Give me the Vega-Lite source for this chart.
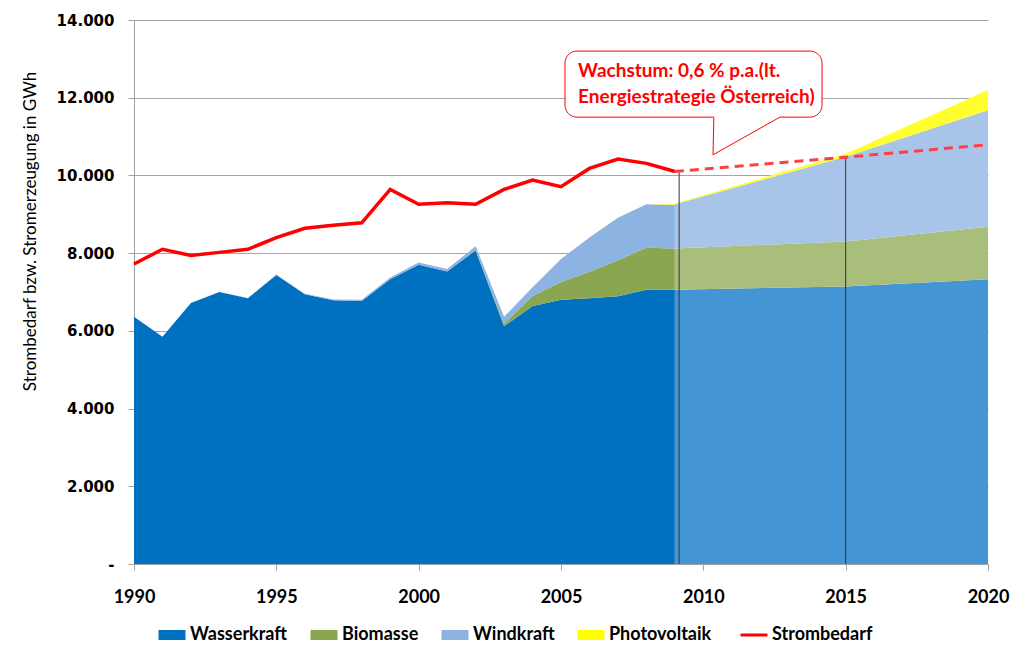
{
  "$schema": "https://vega.github.io/schema/vega-lite/v6.json",
  "autosize": "none",
  "width": 854,
  "height": 544,
  "padding": {"left": 134, "top": 20, "right": 36, "bottom": 99},
  "background": "white",
  "config": {
    "view": {"stroke": null},
    "font": "Lato",
    "axis": {"labelColor": "black", "titleColor": "black", "domainColor": "#A0A0A0", "tickColor": "#A0A0A0", "gridColor": "#A6A6A6"}
  },
  "datasets": {
    "areas": [
      {"year": 1990, "series": "Wasserkraft", "ord": 1, "phase": "ist", "value": 6360},
      {"year": 1991, "series": "Wasserkraft", "ord": 1, "phase": "ist", "value": 5850},
      {"year": 1992, "series": "Wasserkraft", "ord": 1, "phase": "ist", "value": 6720},
      {"year": 1993, "series": "Wasserkraft", "ord": 1, "phase": "ist", "value": 7000},
      {"year": 1994, "series": "Wasserkraft", "ord": 1, "phase": "ist", "value": 6840},
      {"year": 1995, "series": "Wasserkraft", "ord": 1, "phase": "ist", "value": 7440},
      {"year": 1996, "series": "Wasserkraft", "ord": 1, "phase": "ist", "value": 6940},
      {"year": 1997, "series": "Wasserkraft", "ord": 1, "phase": "ist", "value": 6790},
      {"year": 1998, "series": "Wasserkraft", "ord": 1, "phase": "ist", "value": 6770},
      {"year": 1999, "series": "Wasserkraft", "ord": 1, "phase": "ist", "value": 7330},
      {"year": 2000, "series": "Wasserkraft", "ord": 1, "phase": "ist", "value": 7700},
      {"year": 2001, "series": "Wasserkraft", "ord": 1, "phase": "ist", "value": 7530},
      {"year": 2002, "series": "Wasserkraft", "ord": 1, "phase": "ist", "value": 8070},
      {"year": 2003, "series": "Wasserkraft", "ord": 1, "phase": "ist", "value": 6120},
      {"year": 2004, "series": "Wasserkraft", "ord": 1, "phase": "ist", "value": 6640},
      {"year": 2005, "series": "Wasserkraft", "ord": 1, "phase": "ist", "value": 6800},
      {"year": 2006, "series": "Wasserkraft", "ord": 1, "phase": "ist", "value": 6840},
      {"year": 2007, "series": "Wasserkraft", "ord": 1, "phase": "ist", "value": 6890},
      {"year": 2008, "series": "Wasserkraft", "ord": 1, "phase": "ist", "value": 7060},
      {"year": 2009, "series": "Wasserkraft", "ord": 1, "phase": "ist", "value": 7060},
      {"year": 1990, "series": "Biomasse", "ord": 2, "phase": "ist", "value": 0},
      {"year": 1991, "series": "Biomasse", "ord": 2, "phase": "ist", "value": 0},
      {"year": 1992, "series": "Biomasse", "ord": 2, "phase": "ist", "value": 0},
      {"year": 1993, "series": "Biomasse", "ord": 2, "phase": "ist", "value": 0},
      {"year": 1994, "series": "Biomasse", "ord": 2, "phase": "ist", "value": 0},
      {"year": 1995, "series": "Biomasse", "ord": 2, "phase": "ist", "value": 0},
      {"year": 1996, "series": "Biomasse", "ord": 2, "phase": "ist", "value": 0},
      {"year": 1997, "series": "Biomasse", "ord": 2, "phase": "ist", "value": 0},
      {"year": 1998, "series": "Biomasse", "ord": 2, "phase": "ist", "value": 0},
      {"year": 1999, "series": "Biomasse", "ord": 2, "phase": "ist", "value": 0},
      {"year": 2000, "series": "Biomasse", "ord": 2, "phase": "ist", "value": 0},
      {"year": 2001, "series": "Biomasse", "ord": 2, "phase": "ist", "value": 0},
      {"year": 2002, "series": "Biomasse", "ord": 2, "phase": "ist", "value": 10},
      {"year": 2003, "series": "Biomasse", "ord": 2, "phase": "ist", "value": 60},
      {"year": 2004, "series": "Biomasse", "ord": 2, "phase": "ist", "value": 260},
      {"year": 2005, "series": "Biomasse", "ord": 2, "phase": "ist", "value": 460},
      {"year": 2006, "series": "Biomasse", "ord": 2, "phase": "ist", "value": 680},
      {"year": 2007, "series": "Biomasse", "ord": 2, "phase": "ist", "value": 930},
      {"year": 2008, "series": "Biomasse", "ord": 2, "phase": "ist", "value": 1080},
      {"year": 2009, "series": "Biomasse", "ord": 2, "phase": "ist", "value": 1060},
      {"year": 1990, "series": "Windkraft", "ord": 3, "phase": "ist", "value": 0},
      {"year": 1991, "series": "Windkraft", "ord": 3, "phase": "ist", "value": 0},
      {"year": 1992, "series": "Windkraft", "ord": 3, "phase": "ist", "value": 0},
      {"year": 1993, "series": "Windkraft", "ord": 3, "phase": "ist", "value": 0},
      {"year": 1994, "series": "Windkraft", "ord": 3, "phase": "ist", "value": 5},
      {"year": 1995, "series": "Windkraft", "ord": 3, "phase": "ist", "value": 10},
      {"year": 1996, "series": "Windkraft", "ord": 3, "phase": "ist", "value": 15},
      {"year": 1997, "series": "Windkraft", "ord": 3, "phase": "ist", "value": 20},
      {"year": 1998, "series": "Windkraft", "ord": 3, "phase": "ist", "value": 30},
      {"year": 1999, "series": "Windkraft", "ord": 3, "phase": "ist", "value": 40},
      {"year": 2000, "series": "Windkraft", "ord": 3, "phase": "ist", "value": 60},
      {"year": 2001, "series": "Windkraft", "ord": 3, "phase": "ist", "value": 60},
      {"year": 2002, "series": "Windkraft", "ord": 3, "phase": "ist", "value": 100},
      {"year": 2003, "series": "Windkraft", "ord": 3, "phase": "ist", "value": 180},
      {"year": 2004, "series": "Windkraft", "ord": 3, "phase": "ist", "value": 220},
      {"year": 2005, "series": "Windkraft", "ord": 3, "phase": "ist", "value": 590},
      {"year": 2006, "series": "Windkraft", "ord": 3, "phase": "ist", "value": 880},
      {"year": 2007, "series": "Windkraft", "ord": 3, "phase": "ist", "value": 1090},
      {"year": 2008, "series": "Windkraft", "ord": 3, "phase": "ist", "value": 1120},
      {"year": 2009, "series": "Windkraft", "ord": 3, "phase": "ist", "value": 1120},
      {"year": 2008, "series": "Photovoltaik", "ord": 4, "phase": "ist", "value": 0},
      {"year": 2009, "series": "Photovoltaik", "ord": 4, "phase": "ist", "value": 20},
      {"year": 2009, "series": "Wasserkraft Prognose", "ord": 1, "phase": "prog", "value": 7060},
      {"year": 2015, "series": "Wasserkraft Prognose", "ord": 1, "phase": "prog", "value": 7140},
      {"year": 2020, "series": "Wasserkraft Prognose", "ord": 1, "phase": "prog", "value": 7330},
      {"year": 2009, "series": "Biomasse Prognose", "ord": 2, "phase": "prog", "value": 1060},
      {"year": 2015, "series": "Biomasse Prognose", "ord": 2, "phase": "prog", "value": 1160},
      {"year": 2020, "series": "Biomasse Prognose", "ord": 2, "phase": "prog", "value": 1350},
      {"year": 2009, "series": "Windkraft Prognose", "ord": 3, "phase": "prog", "value": 1140},
      {"year": 2015, "series": "Windkraft Prognose", "ord": 3, "phase": "prog", "value": 2180},
      {"year": 2020, "series": "Windkraft Prognose", "ord": 3, "phase": "prog", "value": 3000},
      {"year": 2009, "series": "Photovoltaik Prognose", "ord": 4, "phase": "prog", "value": 20},
      {"year": 2015, "series": "Photovoltaik Prognose", "ord": 4, "phase": "prog", "value": 80},
      {"year": 2020, "series": "Photovoltaik Prognose", "ord": 4, "phase": "prog", "value": 520}
    ],
    "bedarf": [
      {"year": 1990, "series": "Strombedarf", "phase": "ist", "value": 7720},
      {"year": 1991, "series": "Strombedarf", "phase": "ist", "value": 8100},
      {"year": 1992, "series": "Strombedarf", "phase": "ist", "value": 7940},
      {"year": 1993, "series": "Strombedarf", "phase": "ist", "value": 8020},
      {"year": 1994, "series": "Strombedarf", "phase": "ist", "value": 8100},
      {"year": 1995, "series": "Strombedarf", "phase": "ist", "value": 8400},
      {"year": 1996, "series": "Strombedarf", "phase": "ist", "value": 8640},
      {"year": 1997, "series": "Strombedarf", "phase": "ist", "value": 8720},
      {"year": 1998, "series": "Strombedarf", "phase": "ist", "value": 8780},
      {"year": 1999, "series": "Strombedarf", "phase": "ist", "value": 9640},
      {"year": 2000, "series": "Strombedarf", "phase": "ist", "value": 9260},
      {"year": 2001, "series": "Strombedarf", "phase": "ist", "value": 9300},
      {"year": 2002, "series": "Strombedarf", "phase": "ist", "value": 9260},
      {"year": 2003, "series": "Strombedarf", "phase": "ist", "value": 9640},
      {"year": 2004, "series": "Strombedarf", "phase": "ist", "value": 9880},
      {"year": 2005, "series": "Strombedarf", "phase": "ist", "value": 9710},
      {"year": 2006, "series": "Strombedarf", "phase": "ist", "value": 10180},
      {"year": 2007, "series": "Strombedarf", "phase": "ist", "value": 10420},
      {"year": 2008, "series": "Strombedarf", "phase": "ist", "value": 10310},
      {"year": 2009, "series": "Strombedarf", "phase": "ist", "value": 10100},
      {"year": 2009, "series": "Strombedarf", "phase": "prog", "value": 10100},
      {"year": 2015, "series": "Strombedarf", "phase": "prog", "value": 10470},
      {"year": 2020, "series": "Strombedarf", "phase": "prog", "value": 10790}
    ],
    "marker": [
      {"year": 2009.15, "top": 10100, "base": 0},
      {"year": 2015, "top": 10470, "base": 0}
    ],
    "callout": [
      {"x1": 2005.14, "x2": 2014.17, "y1": 11500, "y2": 13200}
    ],
    "pointer": [
      {"k": 1, "px": 2010.37, "py": 11500},
      {"k": 2, "px": 2010.34, "py": 10530},
      {"k": 3, "px": 2012.69, "py": 11500}
    ],
    "calloutText": [
      {"tx": 2005.6, "ty": 12530, "label": "Wachstum: 0,6 % p.a.(lt."},
      {"tx": 2005.6, "ty": 11860, "label": "Energiestrategie Österreich)"}
    ]
  },
  "layer": [
    {
      "data": {"name": "areas"},
      "transform": [{"filter": "datum.phase === 'ist'"}],
      "mark": {"type": "area", "interpolate": "linear"},
      "encoding": {
        "x": {"field": "year", "type": "quantitative", "scale": {"domain": [1990, 2020], "nice": false, "zero": false},
          "axis": {"values": [1990, 1995, 2000, 2005, 2010, 2015, 2020], "format": "d", "title": null, "grid": false,
            "labelFont": "Lato", "labelFontWeight": "bold", "labelFontSize": 18, "tickSize": 6, "labelPadding": 18, "labelFlush": false}},
        "y": {"field": "value", "type": "quantitative", "stack": "zero", "scale": {"domain": [0, 14000], "nice": false},
          "axis": {"values": [0, 2000, 4000, 6000, 8000, 10000, 12000, 14000], "grid": true, "tickSize": 6,
            "labelExpr": "datum.value === 0 ? '-' : replace(format(datum.value, ',.0f'), ',', '.')",
            "labelFont": "DejaVu Sans", "labelFontWeight": "bold", "labelFontSize": 15, "labelPadding": 14,
            "title": "Strombedarf bzw. Stromerzeugung in GWh", "titleFont": "Lato", "titleFontWeight": "normal", "titleFontSize": 17, "titlePadding": 17, "titleY": 211}},
        "color": {"field": "series", "type": "nominal",
          "scale": {"domain": ["Wasserkraft", "Biomasse", "Windkraft", "Photovoltaik", "Strombedarf", "Wasserkraft Prognose", "Biomasse Prognose", "Windkraft Prognose", "Photovoltaik Prognose"],
            "range": ["#0070C0", "#8AA650", "#8DB3E2", "#FFFF00", "#FF0000", "#4395D3", "#A9BE7B", "#A8C5E9", "#FFFF30"]},
          "legend": {"values": ["Wasserkraft", "Biomasse", "Windkraft", "Photovoltaik", "Strombedarf"], "title": null,
            "orient": "none", "direction": "horizontal", "legendX": 29, "legendY": 606,
            "labelFont": "Lato", "labelFontWeight": "bold", "labelFontSize": 18, "labelColor": "black", "labelOffset": 9,
            "columnPadding": 22, "symbolSize": 729, "symbolType": "M-1,-0.37H1V0.37H-1Z", "symbolStrokeWidth": 0, "symbolOpacity": 1,
            "encode": {"symbols": {"update": {
              "shape": {"signal": "datum.value === 'Strombedarf' ? 'M-1,0H1' : 'M-1,-0.37H1V0.37H-1Z'"},
              "stroke": {"signal": "datum.value === 'Strombedarf' ? '#FF0000' : 'transparent'"},
              "strokeWidth": {"signal": "datum.value === 'Strombedarf' ? 3 : 0"}
            }}}}},
        "order": {"field": "ord", "type": "quantitative"}
      }
    },
    {
      "data": {"name": "areas"},
      "transform": [{"filter": "datum.phase === 'prog'"}],
      "mark": {"type": "area", "interpolate": "linear"},
      "encoding": {
        "x": {"field": "year", "type": "quantitative"},
        "y": {"field": "value", "type": "quantitative", "stack": "zero"},
        "color": {"field": "series", "type": "nominal"},
        "order": {"field": "ord", "type": "quantitative"}
      }
    },
    {
      "data": {"name": "marker"},
      "mark": {"type": "rule", "color": "#333333", "strokeWidth": 1},
      "encoding": {
        "x": {"field": "year", "type": "quantitative"},
        "y": {"field": "base", "type": "quantitative"},
        "y2": {"field": "top"}
      }
    },
    {
      "data": {"name": "bedarf"},
      "transform": [{"filter": "datum.phase === 'ist'"}],
      "mark": {"type": "line", "strokeWidth": 3.5},
      "encoding": {
        "x": {"field": "year", "type": "quantitative"},
        "y": {"field": "value", "type": "quantitative"},
        "color": {"field": "series", "type": "nominal"}
      }
    },
    {
      "data": {"name": "bedarf"},
      "transform": [{"filter": "datum.phase === 'prog'"}],
      "mark": {"type": "line", "strokeWidth": 3, "color": "#FF4040", "strokeDash": [9, 6]},
      "encoding": {
        "x": {"field": "year", "type": "quantitative"},
        "y": {"field": "value", "type": "quantitative"}
      }
    },
    {
      "data": {"name": "callout"},
      "mark": {"type": "rect", "fill": "white", "stroke": "#FF0000", "strokeWidth": 1, "cornerRadius": 12},
      "encoding": {
        "x": {"field": "x1", "type": "quantitative"},
        "x2": {"field": "x2"},
        "y": {"field": "y1", "type": "quantitative"},
        "y2": {"field": "y2"}
      }
    },
    {
      "data": {"name": "pointer"},
      "transform": [{"filter": "datum.k !== 2"}],
      "mark": {"type": "line", "color": "white", "strokeWidth": 2.5},
      "encoding": {
        "x": {"field": "px", "type": "quantitative"},
        "y": {"field": "py", "type": "quantitative"},
        "order": {"field": "k", "type": "quantitative"}
      }
    },
    {
      "data": {"name": "pointer"},
      "mark": {"type": "line", "color": "#FF0000", "strokeWidth": 1},
      "encoding": {
        "x": {"field": "px", "type": "quantitative"},
        "y": {"field": "py", "type": "quantitative"},
        "order": {"field": "k", "type": "quantitative"}
      }
    },
    {
      "data": {"name": "calloutText"},
      "mark": {"type": "text", "align": "left", "baseline": "alphabetic", "font": "Lato", "fontWeight": "bold", "fontSize": 19, "color": "#FF0000"},
      "encoding": {
        "x": {"field": "tx", "type": "quantitative"},
        "y": {"field": "ty", "type": "quantitative"},
        "text": {"field": "label", "type": "nominal"}
      }
    }
  ]
}
